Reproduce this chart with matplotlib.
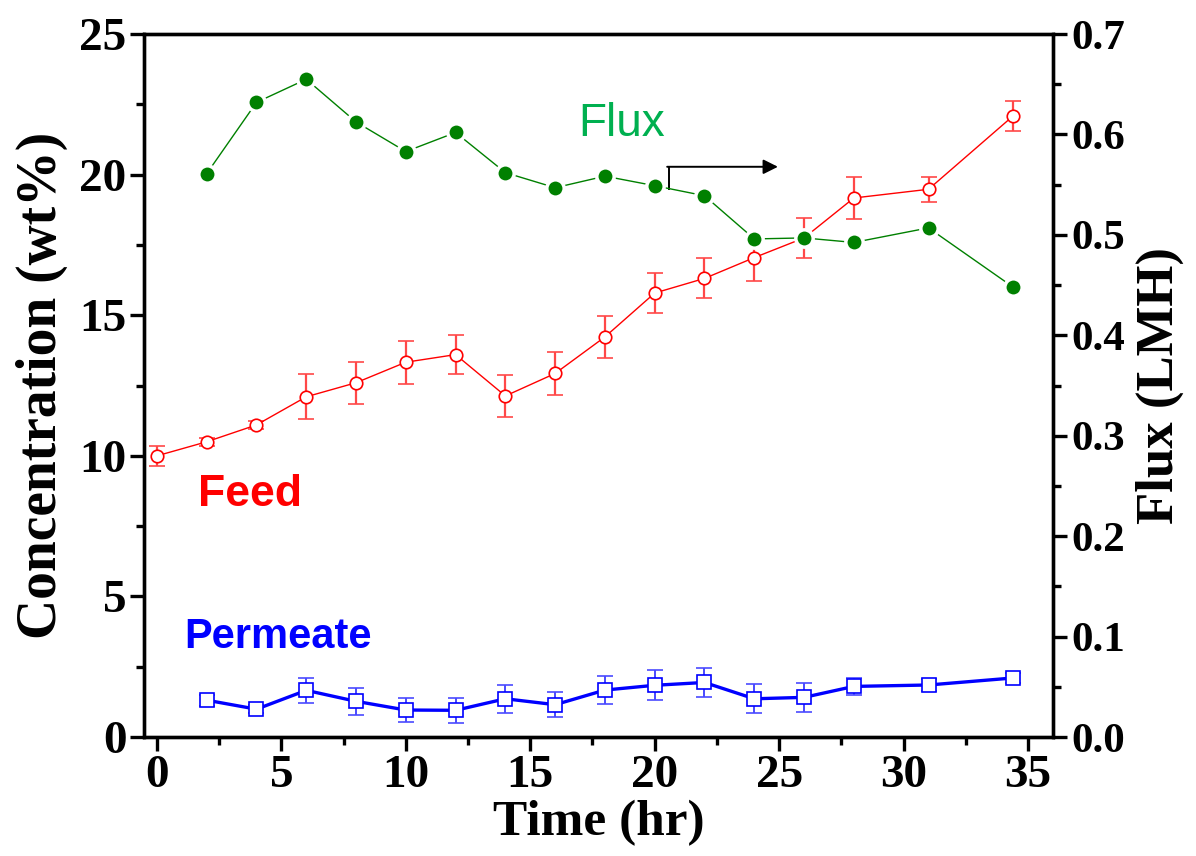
import numpy as np
import matplotlib

matplotlib.use("agg")
import matplotlib.pyplot as plt

# time points (hr)
time = [0, 2, 4, 6, 8, 10, 12, 14, 16, 18, 20, 22, 24, 26, 28, 31, 34.4]

feed = [10.0, 10.5, 11.1, 12.1, 12.6, 13.33, 13.6, 12.13, 12.93, 14.23, 15.79,
        16.31, 17.05, 17.75, 19.17, 19.48, 22.09]
feed_err = [0.35, 0.15, 0.15, 0.8, 0.75, 0.77, 0.7, 0.75, 0.77, 0.76, 0.72,
            0.71, 0.83, 0.72, 0.74, 0.45, 0.53]

perm = [1.31, 0.99, 1.66, 1.27, 0.96, 0.95, 1.36, 1.15, 1.67, 1.84, 1.94,
        1.36, 1.41, 1.8, 1.85, 2.1]
perm_err = [0.2, 0.15, 0.45, 0.48, 0.41, 0.45, 0.5, 0.45, 0.51, 0.53, 0.53,
            0.51, 0.51, 0.3, 0.22, 0.18]
perm_time = time[1:]

flux = [0.561, 0.632, 0.655, 0.6125, 0.583, 0.602, 0.562, 0.547, 0.5585,
        0.549, 0.539, 0.496, 0.497, 0.4925, 0.507, 0.448]
flux_time = time[1:]

serif = "Liberation Serif"
sans = "Liberation Sans"

fig = plt.figure(figsize=(11.96, 8.56), dpi=100)
ax = fig.add_axes([0.1208, 0.139, 0.7596, 0.8212])
ax2 = ax.twinx()

# feed
ax.errorbar(time, feed, yerr=feed_err, color="#ff0000", ecolor="#ff4848",
            elinewidth=1.6, capsize=5.5, capthick=1.6, lw=1.0, marker="o",
            ms=9, mfc="white", mec="#ff0000", mew=1.2, zorder=3)
# permeate
ax.errorbar(perm_time, perm, yerr=perm_err, color="#0000ff", ecolor="#4a4aff",
            elinewidth=1.4, capsize=5.5, capthick=1.4, lw=2.4, marker="s",
            ms=9.5, mfc="white", mec="#0000ff", mew=1.2, zorder=3)
# flux on right axis
ax2.plot(flux_time, flux, color="#008000", lw=1.0, marker="o", ms=12.5,
         mfc="#008000", mec="white", mew=2.5, zorder=3)

ax.set_xlim(-0.5, 36)
ax.set_ylim(0, 25)
ax2.set_ylim(0, 0.7)

ax.set_xticks(np.arange(0, 36, 5))
ax.set_xticks(np.arange(2.5, 36, 5), minor=True)
ax.set_yticks(np.arange(0, 26, 5))
ax.set_yticks(np.arange(2.5, 25, 5), minor=True)
ax2.set_yticks(np.arange(0, 0.71, 0.1))
ax2.set_yticks(np.arange(0.05, 0.7, 0.1), minor=True)

for a in (ax, ax2):
    for s in a.spines.values():
        s.set_linewidth(2.4)
    a.tick_params(which="major", direction="out", length=10, width=2.4, pad=3)
    a.tick_params(which="minor", direction="out", length=5.5, width=2.4)

ax.tick_params(axis="both", labelsize=34)
for lab in ax.get_xticklabels() + ax.get_yticklabels():
    lab.set_fontfamily(serif)
    lab.set_fontweight("bold")
ax2.set_yticklabels([f"{v:.1f}" for v in np.arange(0, 0.71, 0.1)],
                    fontfamily=serif, fontweight="bold", fontsize=31)

ax.set_xlabel("Time (hr)", fontfamily=serif, fontweight="bold", fontsize=37,
              labelpad=2)
ax.set_ylabel("Concentration (wt%)", fontfamily=serif, fontweight="bold",
              fontsize=40, labelpad=8)
ax2.set_ylabel("Flux (LMH)", fontfamily=serif, fontweight="bold", fontsize=38,
               rotation=90, labelpad=8)

ax.text(18.66, 21.8, "Flux", color="#00b050", fontfamily=sans, fontsize=33,
        ha="center", va="center")
ax.text(3.75, 8.63, "Feed", color="#ff0000", fontfamily=sans, fontsize=32,
        fontweight="bold", ha="center", va="center")
ax.text(4.87, 3.55, "Permeate", color="#0000ff", fontfamily=sans, fontsize=30,
        fontweight="bold", ha="center", va="center")

# arrow pointing to the right axis
ax.plot([20.56, 20.56], [19.5, 20.28], color="black", lw=1.4)
ax.annotate("", xy=(24.95, 20.28), xytext=(20.5, 20.28),
            arrowprops=dict(arrowstyle="-|>", color="black", lw=1.4,
                            mutation_scale=22, shrinkA=0, shrinkB=0))

fig.savefig("out.png", dpi=100)
